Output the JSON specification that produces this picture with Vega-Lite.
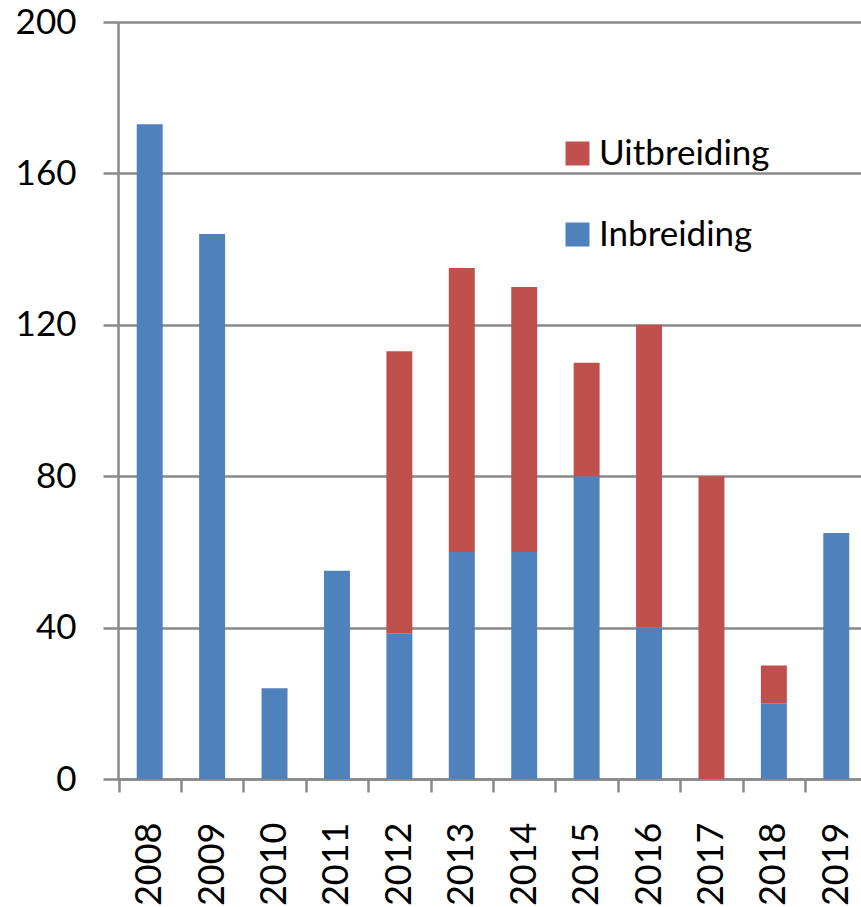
{
  "$schema": "https://vega.github.io/schema/vega-lite/v6.json",
  "width": 743,
  "height": 757,
  "autosize": {"type": "none"},
  "padding": {"left": 118, "top": 22, "right": 0, "bottom": 128},
  "background": "white",
  "data": {
    "values": [
      {"year": "2008", "type": "Inbreiding", "value": 173},
      {"year": "2009", "type": "Inbreiding", "value": 144},
      {"year": "2010", "type": "Inbreiding", "value": 24},
      {"year": "2011", "type": "Inbreiding", "value": 55},
      {"year": "2012", "type": "Inbreiding", "value": 38.5},
      {"year": "2012", "type": "Uitbreiding", "value": 74.5},
      {"year": "2013", "type": "Inbreiding", "value": 60},
      {"year": "2013", "type": "Uitbreiding", "value": 75},
      {"year": "2014", "type": "Inbreiding", "value": 60},
      {"year": "2014", "type": "Uitbreiding", "value": 70},
      {"year": "2015", "type": "Inbreiding", "value": 80},
      {"year": "2015", "type": "Uitbreiding", "value": 30},
      {"year": "2016", "type": "Inbreiding", "value": 40},
      {"year": "2016", "type": "Uitbreiding", "value": 80},
      {"year": "2017", "type": "Inbreiding", "value": 0},
      {"year": "2017", "type": "Uitbreiding", "value": 80},
      {"year": "2018", "type": "Inbreiding", "value": 20},
      {"year": "2018", "type": "Uitbreiding", "value": 10},
      {"year": "2019", "type": "Inbreiding", "value": 65}
    ]
  },
  "transform": [
    {"calculate": "datum.type === 'Inbreiding' ? 0 : 1", "as": "stackOrder"}
  ],
  "mark": {"type": "bar"},
  "encoding": {
    "x": {
      "field": "year",
      "type": "ordinal",
      "scale": {"range": [0, 750], "paddingInner": 0.584, "paddingOuter": 0.3},
      "axis": {
        "title": null,
        "labelAngle": 270,
        "labelFont": "Lato",
        "labelFontSize": 36,
        "labelColor": "black",
        "labelPadding": 30,
        "tickOffset": -31.2,
        "labelOffset": 31.2,
        "tickSize": 13,
        "tickColor": "#898989",
        "tickWidth": 2.5,
        "domainColor": "#898989",
        "domainWidth": 2.5,
        "grid": false
      }
    },
    "y": {
      "field": "value",
      "type": "quantitative",
      "stack": "zero",
      "scale": {"domain": [0, 200], "nice": false},
      "axis": {
        "title": null,
        "values": [0, 40, 80, 120, 160, 200],
        "labelFont": "Lato",
        "labelFontSize": 35,
        "labelColor": "black",
        "labelPadding": 27,
        "tickSize": 15,
        "tickColor": "#898989",
        "tickWidth": 2.5,
        "domainColor": "#898989",
        "domainWidth": 2.5,
        "grid": true,
        "gridColor": "#898989",
        "gridWidth": 2.5,
        "gridOpacity": 1
      }
    },
    "color": {
      "field": "type",
      "type": "nominal",
      "scale": {"domain": ["Uitbreiding", "Inbreiding"], "range": ["#C0504D", "#4F81BD"]},
      "legend": {
        "title": null,
        "orient": "none",
        "legendX": 442,
        "legendY": 114,
        "symbolType": "square",
        "symbolSize": 576,
        "symbolStrokeWidth": 0,
        "symbolOpacity": 1,
        "labelFont": "Lato",
        "labelFontSize": 35,
        "labelColor": "black",
        "labelOffset": 4,
        "labelLimit": 400,
        "rowPadding": 45
      }
    },
    "order": {"field": "stackOrder", "type": "quantitative"}
  },
  "config": {"view": {"stroke": null}}
}
